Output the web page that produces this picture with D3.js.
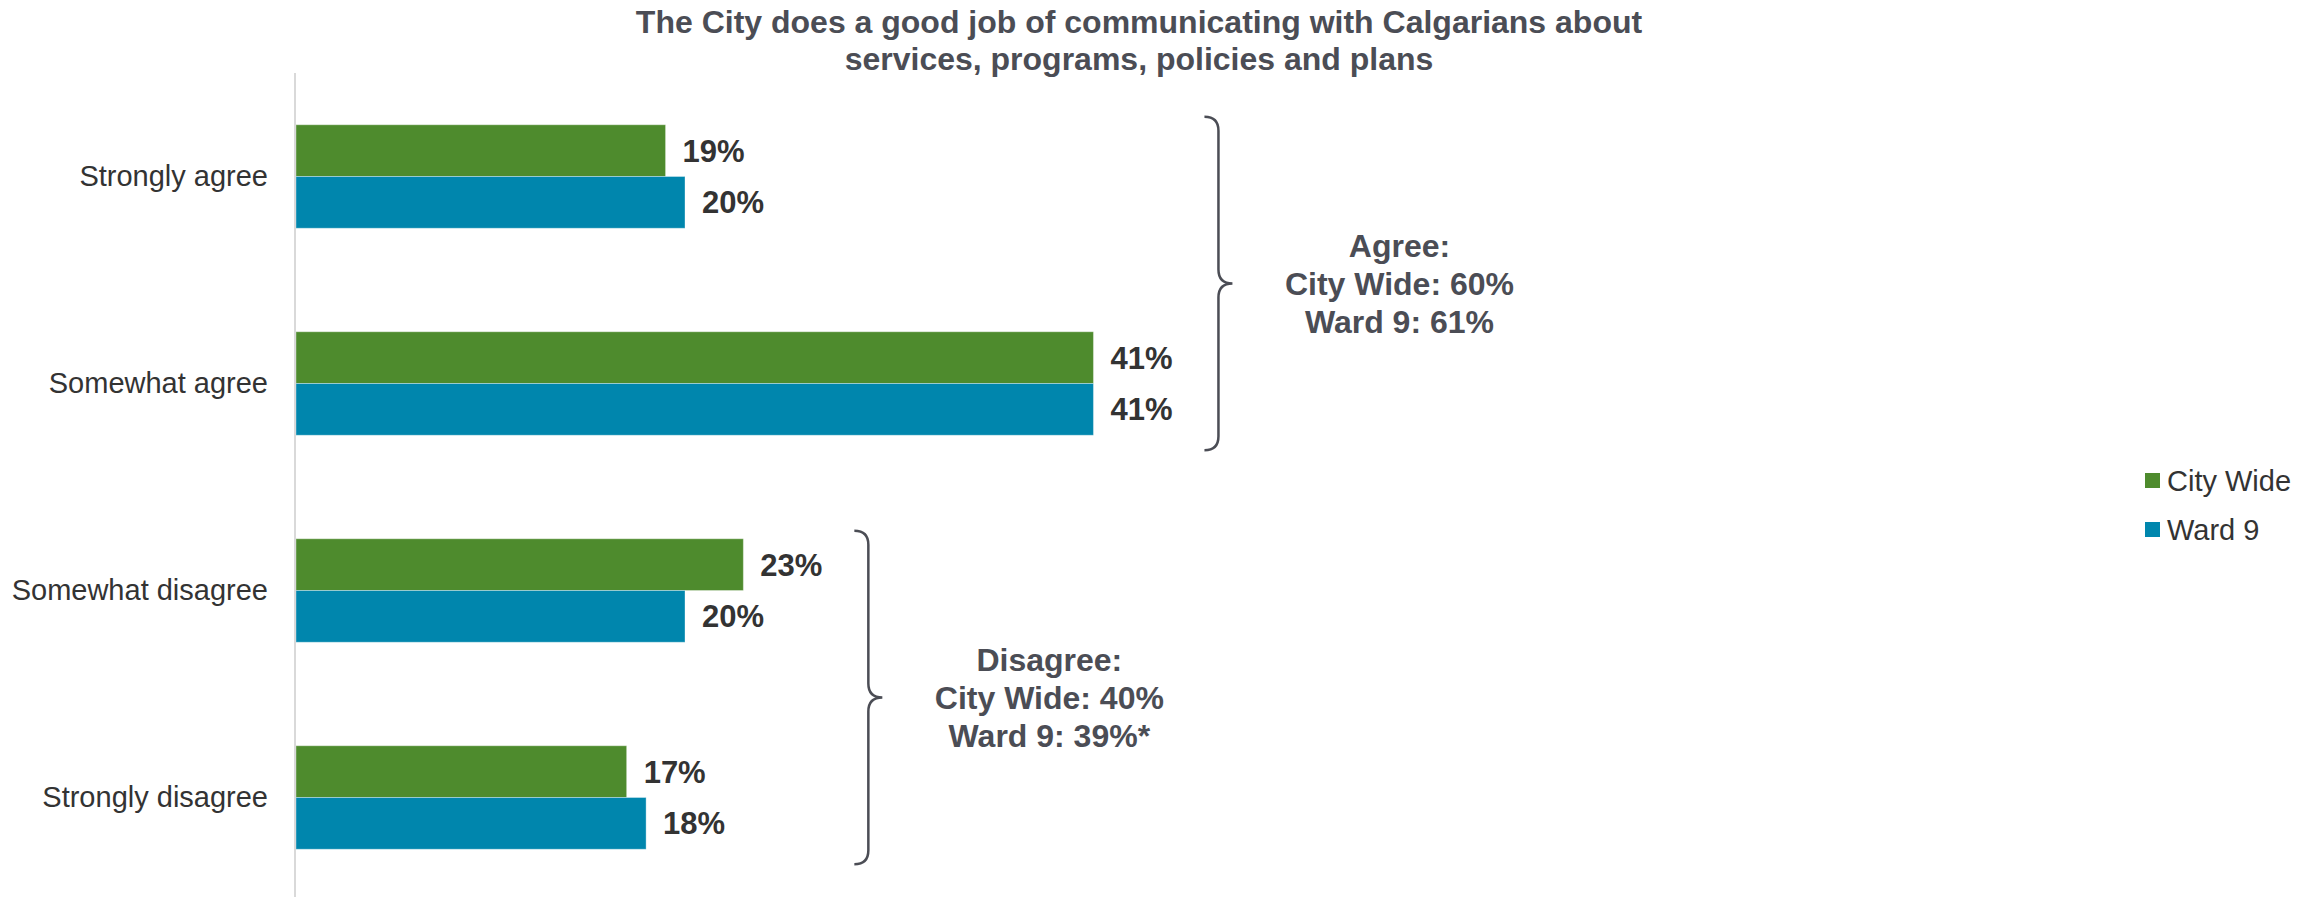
<!DOCTYPE html>
<html>
<head>
<meta charset="utf-8">
<script src="https://cdn.jsdelivr.net/npm/d3@7"></script>
<style>
	body { margin: 0; background: #fff; }
	svg text { font-family: "Liberation Sans", Arial, sans-serif; }
</style>
</head>
<body>
<div class="chart"></div>
<script>
var categories = ["Strongly agree", "Somewhat agree", "Somewhat disagree", "Strongly disagree"]
var seriesNames = ["City Wide", "Ward 9"]
var cityWide = [19, 41, 23, 17]
var ward9 = [20, 41, 20, 18]
var titleLines = ["The City does a good job of communicating with Calgarians about", "services, programs, policies and plans"]
var agreeLines = ["Agree:", "City Wide: 60%", "Ward 9: 61%"]
var disagreeLines = ["Disagree:", "City Wide: 40%", "Ward 9: 39%*"]
var colors = ["#4e8b2d", "#0086ad"]

drawChart()

function drawChart() {
	var width = 2318
	var height = 897
	var svg = d3.select(".chart")
				.append("svg")
				.attr("width", width)
				.attr("height", height)

	var x = d3.scaleLinear().domain([0, 50]).range([296, 296 + 50 * 19.45])
	var y = d3.scaleBand().domain(categories).range([73, 901])
				.paddingInner(0.5).paddingOuter(0.25)
	var ySub = d3.scaleBand().domain(seriesNames).range([0, y.bandwidth()])

	// title
	svg.append("text")
		.attr("x", 1139)
		.attr("y", 33)
		.attr("text-anchor", "middle")
		.attr("font-size", 32)
		.attr("font-weight", "bold")
		.attr("fill", "#4b4d55")
		.selectAll("tspan")
		.data(titleLines)
		.join("tspan")
		.attr("x", 1139)
		.attr("dy", function(d, i) { return i == 0 ? 0 : 37 })
		.text(function(d) { return d })

	var values = [cityWide, ward9]
	var rows = []
	categories.forEach(function(c, i) {
		seriesNames.forEach(function(s, j) {
			rows.push({cat: c, series: s, value: values[j][i], color: colors[j]})
		})
	})

	svg.append("g").selectAll("rect")
		.data(rows)
		.join("rect")
		.attr("x", x(0))
		.attr("y", function(d) { return y(d.cat) + ySub(d.series) })
		.attr("width", function(d) { return x(d.value) - x(0) })
		.attr("height", ySub.bandwidth())
		.attr("fill", function(d) { return d.color })
		.attr("stroke", "rgba(255,255,255,0.35)")
		.attr("stroke-width", 1)

	svg.append("g").selectAll("text")
		.data(rows)
		.join("text")
		.attr("x", function(d) { return x(d.value) + 17 })
		.attr("y", function(d) { return y(d.cat) + ySub(d.series) + ySub.bandwidth() / 2 + 11 })
		.attr("font-size", 31)
		.attr("font-weight", "bold")
		.attr("fill", "#333")
		.text(function(d) { return d.value + "%" })

	// category axis
	var axis = svg.append("g")
		.attr("transform", "translate(" + x(0) + ",0)")
		.call(d3.axisLeft(y).tickSize(0).tickPadding(28))
	axis.select(".domain").remove()
	axis.append("line")
		.attr("x1", -1).attr("x2", -1)
		.attr("y1", 73).attr("y2", height)
		.attr("stroke", "#d9d9d9")
		.attr("stroke-width", 2)
	axis.selectAll(".tick text")
		.attr("font-size", 29)
		.attr("font-family", "Liberation Sans, Arial, sans-serif")
		.attr("fill", "#333")

	drawBrace(svg, x, y, categories.slice(0, 2), [cityWide, ward9], agreeLines)
	drawBrace(svg, x, y, categories.slice(2, 4), [cityWide, ward9], disagreeLines)

	// legend
	var legend = svg.append("g").selectAll("g")
		.data(seriesNames)
		.join("g")
		.attr("transform", function(d, i) { return "translate(2145," + (473 + i * 49) + ")" })
	legend.append("rect")
		.attr("width", 15)
		.attr("height", 15)
		.attr("fill", function(d, i) { return colors[i] })
	legend.append("text")
		.attr("x", 22)
		.attr("y", 18)
		.attr("font-size", 29)
		.attr("fill", "#333")
		.text(function(d) { return d })
}

function drawBrace(svg, x, y, cats, values, lines) {
	var idx = cats.map(function(c) { return categories.indexOf(c) })
	var maxVal = 0
	values.forEach(function(v) { idx.forEach(function(i) { maxVal = Math.max(maxVal, v[i]) }) })
	var bx = x(maxVal) + 125
	var top = y(cats[0]) - 8
	var bottom = y(cats[cats.length - 1]) + y.bandwidth() + 15
	var mid = (top + bottom) / 2
	var r = 14

	var path = d3.path()
	path.moveTo(bx - r, top)
	path.quadraticCurveTo(bx, top, bx, top + r)
	path.lineTo(bx, mid - r)
	path.quadraticCurveTo(bx, mid, bx + r, mid)
	path.quadraticCurveTo(bx, mid, bx, mid + r)
	path.lineTo(bx, bottom - r)
	path.quadraticCurveTo(bx, bottom, bx - r, bottom)

	svg.append("path")
		.attr("d", path.toString())
		.attr("fill", "none")
		.attr("stroke", "#4b4d55")
		.attr("stroke-width", 2.5)

	var tx = bx + r + 167
	svg.append("g").selectAll("text")
		.data(lines)
		.join("text")
		.attr("x", tx)
		.attr("y", function(d, i) { return mid + (i - 1) * 38 + 11 })
		.attr("text-anchor", "middle")
		.attr("font-size", 32)
		.attr("font-weight", "bold")
		.attr("fill", "#4b4d55")
		.text(function(d) { return d })
}
</script>
</body>
</html>
